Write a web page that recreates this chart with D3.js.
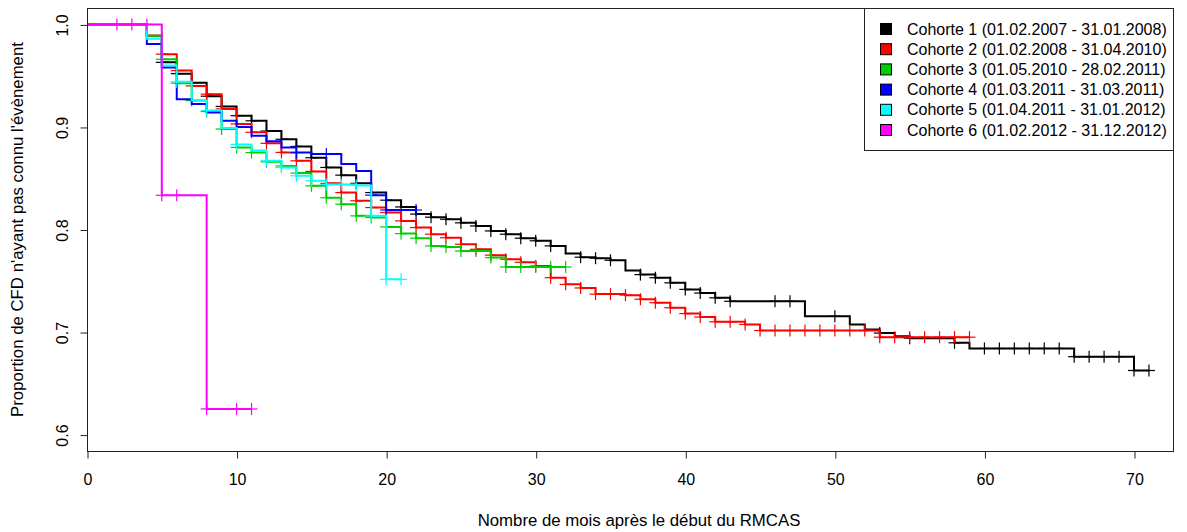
<!DOCTYPE html>
<html>
<head>
<meta charset="utf-8">
<script src="https://cdn.jsdelivr.net/npm/d3@7"></script>
<style>
  html, body { margin: 0; padding: 0; background: #fff; }
  svg { display: block; }
  text { font-family: "Liberation Sans", Arial, Helvetica, sans-serif; fill: #000; }
</style>
</head>
<body>
<svg id="chart" width="1187" height="532"></svg>
<script>
// ---------------- DATA ----------------
const cohorts = [
  "Cohorte 1 (01.02.2007 - 31.01.2008)",
  "Cohorte 2 (01.02.2008 - 31.04.2010)",
  "Cohorte 3 (01.05.2010 - 28.02.2011)",
  "Cohorte 4 (01.03.2011 - 31.03.2011)",
  "Cohorte 5 (01.04.2011 - 31.01.2012)",
  "Cohorte 6 (01.02.2012 - 31.12.2012)"
];
const colors = ["#000000", "#FF0000", "#00CD00", "#0000FF", "#00FFFF", "#FF00FF"];

// survival level holding on [month i, month i+1)
const surv1 = [1,1,1,1,0.989,0.963,0.952,0.943,0.930,0.920,0.911,0.906,0.896,0.888,0.881,0.870,0.8605,0.853,0.845,0.836,
  0.8286,0.822,0.815,0.812,0.810,0.8065,0.8035,0.7986,0.7954,0.7915,0.789,0.784,0.7765,0.773,0.772,0.770,0.760,0.756,0.753,0.748,
  0.7416,0.738,0.7334,0.730,0.730,0.730,0.730,0.730,0.7155,0.7155,0.7155,0.7074,0.7025,0.699,0.696,0.694,0.694,0.694,0.6895,0.684,
  0.684,0.684,0.684,0.684,0.684,0.684,0.676,0.676,0.676,0.676,0.6625];
const surv2 = [1,1,1,1,0.989,0.971,0.955,0.940,0.932,0.9176,0.903,0.8948,0.884,0.8752,0.867,0.8566,0.845,0.836,0.828,0.8214,
  0.8166,0.8084,0.8019,0.7954,0.792,0.7856,0.7807,0.775,0.771,0.768,0.7644,0.753,0.7465,0.743,0.737,0.737,0.736,0.732,0.7286,0.7237,
  0.718,0.7146,0.710,0.710,0.7074,0.7015,0.7015,0.7015,0.7015,0.7015,0.7015,0.7015,0.7015,0.695,0.695,0.695,0.695,0.695,0.695];
const surv3 = [1,1,1,1,0.989,0.966,0.9427,0.9257,0.915,0.898,0.880,0.875,0.866,0.862,0.855,0.8426,0.831,0.8247,0.8133,0.8117,
  0.8025,0.796,0.7915,0.784,0.783,0.779,0.779,0.7726,0.7634,0.7634,0.7634,0.7634];
const surv4 = [1,1,1,1,0.981,0.958,0.927,0.9224,0.914,0.906,0.900,0.8915,0.886,0.880,0.875,0.8736,0.8736,0.8638,0.857,0.8335,
  0.819,0.819];
const surv5 = [1,1,1,1,0.986,0.960,0.944,0.9257,0.916,0.899,0.883,0.877,0.867,0.8605,0.8524,0.8475,0.844,0.844,0.843,0.8133,
  0.7514];
const surv6 = [1,1,1,1,1,0.8333,0.8333,0.8333,0.625,0.625,0.625];

// censoring marks (months)
const cens1 = [5,6,7,8,9,10,11,12,13,14,15,16,17,18,19,20,21,22,23,24,25,26,27,28,29,30,31,33,34,35,37,38,39,40,41,42,43,46,47,50,53,55,58,60,61,62,63,64,65,66,67,68,69,70,71];
const cens2 = [5,6,7,8,9,10,11,12,13,14,15,16,17,18,19,20,21,22,23,24,25,26,27,28,29,30,31,32,33,34,35,36,37,38,39,40,41,42,43,44,45,46,47,48,49,50,51,52,53,54,55,56,57,58,59];
const cens3 = [5,6,7,8,9,10,11,12,13,14,15,16,17,18,19,20,21,22,23,24,25,26,27,28,29,30,31,32];
const cens4 = [14,16,19,20,22];
const cens5 = [6,8,10,12,13,14,15,16,17,18,19,20,21];
const cens6 = [2,3,4,5,6,8,10,11];

const xTicks = [0,10,20,30,40,50,60,70];
const yTicks = [0.6,0.7,0.8,0.9,1.0];
const yTickLabels = ["0.6","0.7","0.8","0.9","1.0"];
const xTitle = "Nombre de mois après le début du RMCAS";
const yTitle = "Proportion de CFD n'ayant pas connu l'évènement";

// ---------------- LAYOUT ----------------
const box = {left: 87, right: 1173, top: 8, bottom: 451};
const x = d3.scaleLinear().domain([0, 70]).range([87, 1134]);
const y = d3.scaleLinear().domain([0.584, 1.016]).range([box.bottom, box.top]);

const svg = d3.select("#chart");
svg.append("rect").attr("width", 1187).attr("height", 532).attr("fill", "#fff");

const series = [surv1, surv2, surv3, surv4, surv5, surv6];
const censors = [cens1, cens2, cens3, cens4, cens5, cens6];

const line = d3.line().x(d => x(d[0])).y(d => y(d[1])).curve(d3.curveStepAfter);

const plot = svg.append("g");
series.forEach((s, k) => {
  const pts = s.map((v, i) => [i, v]);
  pts.push([s.length, s[s.length - 1]]);
  plot.append("path")
    .datum(pts)
    .attr("d", line)
    .attr("fill", "none")
    .attr("stroke", colors[k])
    .attr("stroke-width", 2)
    .attr("stroke-linejoin", "miter")
    .attr("stroke-linecap", "butt");
  const h = 6;
  const g = plot.append("g").attr("stroke", colors[k]).attr("stroke-width", 1.2);
  censors[k].forEach(m => {
    const v = m < s.length ? s[m] : s[s.length - 1];
    const cx = x(m), cy = y(v);
    g.append("line").attr("x1", cx - h).attr("x2", cx + h).attr("y1", cy).attr("y2", cy);
    g.append("line").attr("x1", cx).attr("x2", cx).attr("y1", cy - h).attr("y2", cy + h);
  });
});

// box
svg.append("rect")
  .attr("x", box.left + 0.5).attr("y", box.top + 0.5)
  .attr("width", box.right - box.left).attr("height", box.bottom - box.top)
  .attr("fill", "none").attr("stroke", "#222").attr("stroke-width", 1);

// x axis
const xAxis = d3.axisBottom(x).tickValues(xTicks).tickSize(7).tickPadding(15).tickFormat(d3.format("d"));
const gx = svg.append("g").attr("transform", `translate(0.5,${box.bottom + 0.5})`).call(xAxis);
gx.select(".domain").remove();
gx.selectAll(".tick line").attr("stroke", "#222");
gx.selectAll(".tick text").attr("font-size", 16).attr("fill", "#000");

// y axis
const yAxis = d3.axisLeft(y).tickValues(yTicks).tickSize(7).tickFormat((d, i) => yTickLabels[i]);
const gy = svg.append("g").attr("transform", `translate(${box.left + 0.5},0.5)`).call(yAxis);
gy.select(".domain").remove();
gy.selectAll(".tick line").attr("stroke", "#222");
gy.selectAll(".tick text")
  .attr("font-size", 16).attr("fill", "#000")
  .attr("x", null).attr("dy", null)
  .attr("text-anchor", "middle")
  .attr("transform", "translate(-20,0) rotate(-90)")
  .attr("dy", "0em");

// titles
svg.append("text").attr("x", 639).attr("y", 526).attr("text-anchor", "middle").attr("font-size", 16.8).text(xTitle);
svg.append("text").attr("transform", `translate(23,${(box.top + box.bottom) / 2}) rotate(-90)`)
  .attr("text-anchor", "middle").attr("font-size", 16.8).text(yTitle);

// legend
const lg = svg.append("g");
lg.append("rect").attr("x", 864.5).attr("y", box.top + 0.5).attr("width", box.right - 864).attr("height", 142)
  .attr("fill", "#fff").attr("stroke", "#222").attr("stroke-width", 1);
cohorts.forEach((c, i) => {
  const cy = 29 + i * 20.2;
  lg.append("rect").attr("x", 880.5).attr("y", cy - 5.5).attr("width", 11).attr("height", 11)
    .attr("fill", colors[i]).attr("stroke", "#000").attr("stroke-width", 1);
  lg.append("text").attr("x", 907).attr("y", cy + 5.5).attr("font-size", 16).text(c);
});
</script>
</body>
</html>
